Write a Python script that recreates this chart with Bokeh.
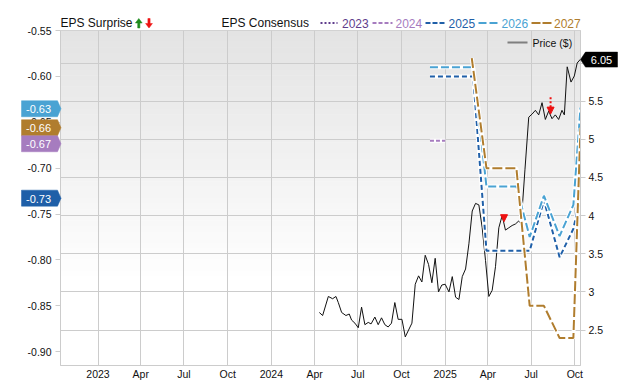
import pandas as pd
from bokeh.plotting import figure
from bokeh.core.properties import value
from bokeh.models import (Range1d, LinearAxis, FixedTicker, NumeralTickFormatter, Grid,
                          BoxAnnotation, Arrow, NormalHead)
from bokeh.embed import file_html
from bokeh.resources import INLINE

# ---------------- data ----------------
price_dates = [
    "2024-04-11", "2024-04-18", "2024-04-30", "2024-05-09", "2024-05-16", "2024-05-21",
    "2024-05-28", "2024-06-06", "2024-06-13", "2024-06-18", "2024-06-25", "2024-07-02",
    "2024-07-09", "2024-07-16", "2024-07-23", "2024-07-29", "2024-08-06", "2024-08-13",
    "2024-08-20", "2024-08-27", "2024-09-03", "2024-09-10", "2024-09-17", "2024-09-24",
    "2024-10-02", "2024-10-09", "2024-10-16", "2024-10-23", "2024-10-30", "2024-11-06",
    "2024-11-13", "2024-11-20", "2024-11-27", "2024-12-04", "2024-12-11", "2024-12-18",
    "2024-12-25", "2025-01-01", "2025-01-09", "2025-01-16", "2025-01-23", "2025-01-30",
    "2025-02-06", "2025-02-13", "2025-02-20", "2025-02-27", "2025-03-06", "2025-03-13",
    "2025-03-20", "2025-03-27", "2025-04-03", "2025-04-10", "2025-04-17", "2025-04-24",
    "2025-05-01", "2025-05-08", "2025-05-15", "2025-05-22", "2025-05-29", "2025-06-05",
    "2025-06-10", "2025-06-18", "2025-06-26", "2025-07-03", "2025-07-10", "2025-07-17",
    "2025-07-24", "2025-07-31", "2025-08-07", "2025-08-14", "2025-08-21", "2025-08-28",
    "2025-09-04", "2025-09-09", "2025-09-15", "2025-09-23", "2025-09-30", "2025-10-06",
    "2025-10-13",
]
price_values = [
    2.73, 2.69, 2.94, 2.91, 2.94, 2.86,
    2.73, 2.69, 2.71, 2.63, 2.59, 2.53,
    2.80, 2.57, 2.60, 2.58, 2.67, 2.57,
    2.66, 2.57, 2.54, 2.59, 2.86, 2.64,
    2.64, 2.41, 2.50, 2.59, 3.10, 3.21,
    3.13, 3.48, 3.36, 3.12, 3.44, 3.00,
    3.09, 3.10, 3.00, 3.20, 2.93, 2.90,
    3.20, 3.30, 3.63, 4.06, 4.16, 4.14,
    3.84, 3.41, 2.94, 3.02, 3.33, 3.84,
    4.00, 3.81, 3.84, 3.87, 3.89, 3.93,
    3.89, 4.60, 5.29, 5.33, 5.38, 5.32,
    5.48, 5.26, 5.37, 5.27, 5.32, 5.26,
    5.38, 5.32, 5.95, 5.75, 5.83, 6.00,
    6.05,
]

cons_2023_dates = []
cons_2023_values = []
cons_2024_dates = ["2024-11-30", "2025-01-01"]
cons_2024_values = [-0.67, -0.67]
cons_2025_dates = ["2024-11-30", "2025-03-01", "2025-03-29", "2025-06-28", "2025-07-28",
                   "2025-08-30", "2025-09-28", "2025-10-13"]
cons_2025_values = [-0.60, -0.60, -0.79, -0.79, -0.735, -0.797, -0.766, -0.73]
cons_2026_dates = ["2024-11-30", "2025-03-01", "2025-03-29", "2025-05-31", "2025-06-28",
                   "2025-07-28", "2025-08-30", "2025-09-28", "2025-10-13"]
cons_2026_values = [-0.59, -0.59, -0.72, -0.72, -0.775, -0.73, -0.774, -0.74, -0.634]
cons_2027_dates = ["2025-02-26", "2025-03-29", "2025-05-31", "2025-06-28", "2025-07-28",
                   "2025-08-30", "2025-09-28", "2025-10-13"]
cons_2027_values = [-0.58, -0.70, -0.70, -0.85, -0.85, -0.885, -0.885, -0.656]

surprise_dates = ["2025-05-05", "2025-08-11"]
surprise_prices = [3.92, 5.33]
surprise_shaft = [0.08, 0.22]

x_tick_dates = ["2023-01-01", "2023-04-01", "2023-07-01", "2023-10-01",
                "2024-01-01", "2024-04-01", "2024-07-01", "2024-10-01",
                "2025-01-01", "2025-04-01", "2025-07-01", "2025-10-01"]
x_tick_labels = ["2023", "Apr", "Jul", "Oct", "2024", "Apr", "Jul", "Oct",
                 "2025", "Apr", "Jul", "Oct"]
eps_ticks = [-0.90, -0.85, -0.80, -0.75, -0.70, -0.65, -0.60, -0.55]
price_ticks = [2.5, 3.0, 3.5, 4.0, 4.5, 5.0, 5.5, 6.0]

legend_years = ["2023", "2024", "2025", "2026", "2027"]

# ---------------- layout constants ----------------
W, H = 640, 382
FL, FR, FT, FB = 60, 580, 30, 370
X_START, X_END = "2022-10-14", "2025-10-13"
EPS_MIN, EPS_MAX = -0.915, -0.55
PR_MIN, PR_MAX = 2.035, 6.426
FONT = "Liberation Sans"

C2023 = "#5f3d8c"
C2024 = "#a67cbf"
C2025 = "#1f5fa8"
C2026 = "#4aa3d3"
C2027 = "#b07d2e"
GRID = "#cccccc"


def ms(d):
    return int(pd.Timestamp(d).value // 10**6)


def ypx_eps(v):
    return FT + (EPS_MAX - v) / (EPS_MAX - EPS_MIN) * (FB - FT)


def ypx_price(v):
    return FT + (PR_MAX - v) / (PR_MAX - PR_MIN) * (FB - FT)


# ---------------- main chart ----------------
p = figure(width=W, height=H, x_axis_type="datetime", output_backend="svg",
           toolbar_location=None,
           x_range=Range1d(ms(X_START), ms(X_END)),
           y_range=Range1d(EPS_MIN, EPS_MAX),
           min_border_left=FL, min_border_right=W - FR,
           min_border_top=FT, min_border_bottom=H - FB)
p.background_fill_color = "white"
p.border_fill_color = "white"
p.outline_line_color = GRID

NB = 60
for i in range(NB):
    t = (i + 0.5) / NB
    g = int(round(227 + 28 * min(1.0, t / 0.75)))
    top = EPS_MAX - (EPS_MAX - EPS_MIN) * i / NB
    bot = EPS_MAX - (EPS_MAX - EPS_MIN) * (i + 1) / NB
    p.add_layout(BoxAnnotation(top=top, bottom=bot - 0.0005, fill_color=(g, g, g),
                               fill_alpha=1, line_alpha=0, level="image"))

p.extra_y_ranges = {"price": Range1d(PR_MIN, PR_MAX)}
rax = LinearAxis(y_range_name="price", ticker=FixedTicker(ticks=price_ticks),
                 formatter=NumeralTickFormatter(format="0.[0]"))
p.add_layout(rax, "right")

lax = p.yaxis[0]
lax.ticker = FixedTicker(ticks=eps_ticks)
lax.formatter = NumeralTickFormatter(format="0.00")

xax = p.xaxis[0]
xax.ticker = FixedTicker(ticks=[ms(d) for d in x_tick_dates])
xax.major_label_overrides = {ms(d): lbl for d, lbl in zip(x_tick_dates, x_tick_labels)}

for ax in (lax, rax, xax):
    ax.axis_line_color = GRID
    ax.major_tick_line_color = GRID
    ax.minor_tick_line_color = None
    ax.major_tick_in = 0
    ax.major_label_text_font = FONT
    ax.major_label_text_font_size = "10.5px"
    ax.major_label_text_color = "#111111"
lax.major_tick_out = 5
lax.major_label_standoff = 4
rax.major_tick_out = 5
rax.major_label_standoff = 3
xax.major_tick_out = 0
xax.major_label_standoff = 2

p.xgrid[0].grid_line_color = GRID
p.ygrid[0].visible = False
p.add_layout(Grid(dimension=1, ticker=rax.ticker, y_range_name="price", grid_line_color=GRID))

p.line(pd.to_datetime(price_dates), price_values, y_range_name="price",
       line_color="#111111", line_width=1)

series = [
    (cons_2023_dates, cons_2023_values, C2023, "2 2"),
    (cons_2024_dates, cons_2024_values, C2024, "4 2"),
    (cons_2025_dates, cons_2025_values, C2025, "5 3"),
    (cons_2026_dates, cons_2026_values, C2026, "8 3"),
    (cons_2027_dates, cons_2027_values, C2027, "10 3"),
]
for d, v, c, dash in series:
    if not d:
        continue
    xs = pd.to_datetime(d)
    p.line(xs, v, line_color="white", line_width=4)
    p.line(xs, v, line_color=c, line_width=2, line_dash=dash)

for d, pr, sh in zip(surprise_dates, surprise_prices, surprise_shaft):
    p.add_layout(Arrow(end=NormalHead(size=7, fill_color="#ee1111", line_color="#ee1111"),
                       x_start=ms(d), x_end=ms(d), y_start=pr + sh, y_end=pr,
                       y_range_name="price", line_color="#ee1111", line_width=2,
                       line_dash="2 2"))

# ---------------- decoration layer (legend and value tags), pixel space ----------------
deco = figure(width=W, height=H, output_backend="svg", toolbar_location=None,
              x_range=Range1d(0, W), y_range=Range1d(H, 0),
              x_axis_location=None, y_axis_location=None, min_border=0,
              outline_line_color=None, background_fill_alpha=0, border_fill_alpha=0,
              styles={"position": "absolute", "top": "0px", "left": "0px"})
deco.grid.visible = False


def text(x, y, s, color="#111111", size="12px", align="left"):
    deco.text(x=[x], y=[y], text=[s], text_color=color, text_font=value(FONT),
              text_font_size=size, text_baseline="middle", text_align=align)


def poly(xs, ys, color):
    deco.patch(xs, ys, fill_color=color, line_color=color, line_width=0.5)


LY = 22.5
text(60, LY, "EPS Surprise")
ax0 = 138.3
poly([ax0, ax0 + 3.4, ax0 + 1.1, ax0 + 1.1, ax0 - 1.1, ax0 - 1.1, ax0 - 3.4],
     [18, 22.5, 22.5, 27.5, 27.5, 22.5, 22.5], "#1d8a1d")
ax1 = 148.5
poly([ax1, ax1 + 3.4, ax1 + 1.1, ax1 + 1.1, ax1 - 1.1, ax1 - 1.1, ax1 - 3.4],
     [27.5, 23, 23, 18, 18, 23, 23], "#ee1111")

text(221, LY, "EPS Consensus")
leg_pos = [(320, 337, 341.5), (372, 392, 395), (425, 445, 448), (478, 498, 501), (531, 551, 553.5)]
leg_dash = ["2 2", "4 2", "5 2", "8 3", "9 2"]
leg_col = [C2023, C2024, C2025, C2026, C2027]
for (x0, x1, tx), dsh, c, s in zip(leg_pos, leg_dash, leg_col, legend_years):
    deco.segment(x0=[x0], y0=[LY], x1=[x1], y1=[LY], line_color=c, line_width=2,
                 line_dash=dsh)
    text(tx, LY, s, color=c)

deco.segment(x0=[507], y0=[42], x1=[527], y1=[42], line_color="#7f7f7f", line_width=2)
text(532, 42, "Price ($)", size="10.5px")

tags = [
    (cons_2026_values[-1], C2026),
    (cons_2027_values[-1], C2027),
    (cons_2024_values[-1], C2024),
    (cons_2025_values[-1], C2025),
]
tags.sort(key=lambda t: -t[0])
ys = [ypx_eps(v) for v, _ in tags]
HT = 16
for _ in range(10):
    for i in range(len(ys) - 1):
        if ys[i + 1] - ys[i] < HT:
            mid = (ys[i] + ys[i + 1]) / 2
            ys[i], ys[i + 1] = mid - HT / 2, mid + HT / 2
for (v, c), yc in zip(tags, ys):
    poly([21, 57, 60.5, 57, 21], [yc - HT / 2, yc - HT / 2, yc, yc + HT / 2, yc + HT / 2], c)
    text(25.5, yc + 0.5, f"{v:.2f}", color="white", size="11px")

last_price = price_values[-1]
yc = ypx_price(last_price)
poly([580, 585, 617, 617, 585], [yc, yc - 7.5, yc - 7.5, yc + 7.5, yc + 7.5], "#000000")
text(601, yc + 0.5, f"{last_price:.2f}", color="white", size="11px", align="center")

open("out.html", "w").write(file_html([p, deco], INLINE))
